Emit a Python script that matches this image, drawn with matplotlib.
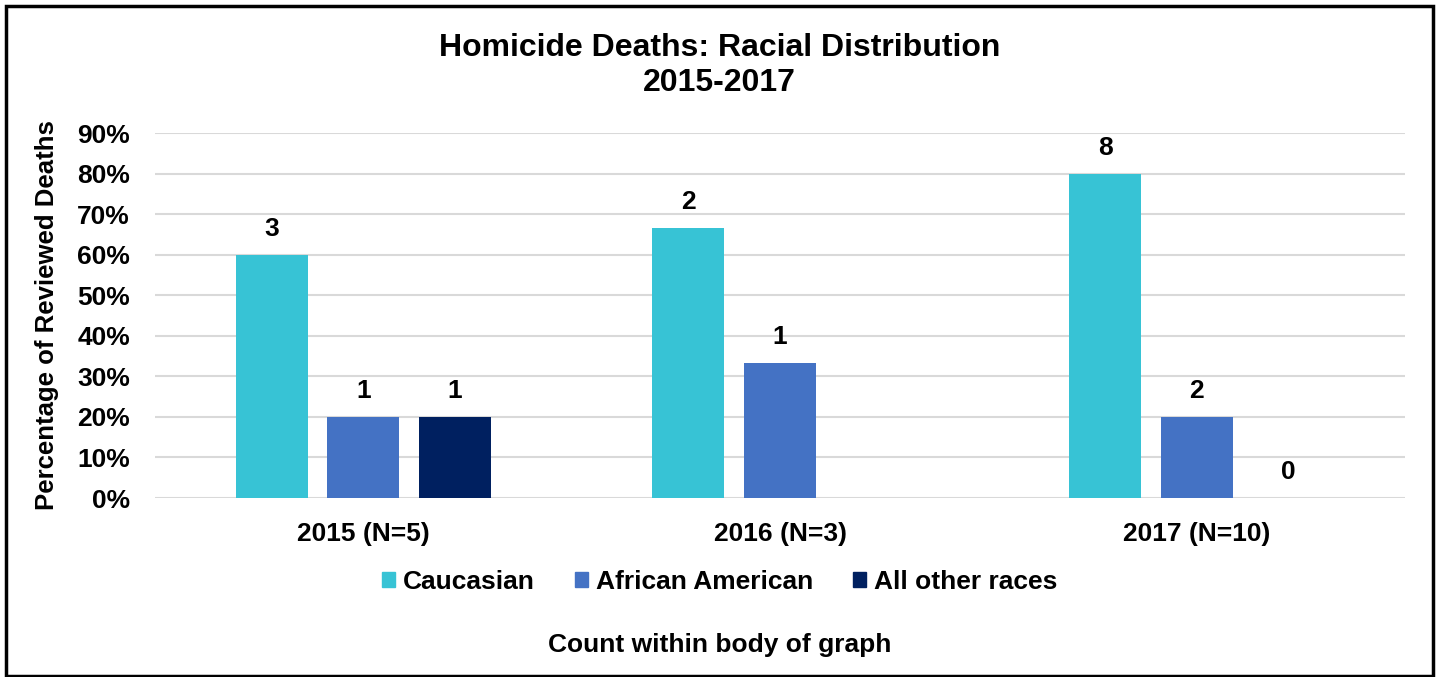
import matplotlib.pyplot as plt
import numpy as np
from matplotlib.patches import Patch, Rectangle

plt.rcParams['font.family'] = ['Liberation Sans', 'DejaVu Sans']
plt.rcParams['font.weight'] = 'bold'

years = ['2015 (N=5)', '2016 (N=3)', '2017 (N=10)']
races = ['Caucasian', 'African American', 'All other races']
colors = ['#37C3D5', '#4472C4', '#002060']
pct = {
    'Caucasian': [60, 66.7, 80],
    'African American': [20, 33.3, 20],
    'All other races': [20, 0, 0],
}
counts = {
    'Caucasian': ['3', '2', '8'],
    'African American': ['1', '1', '2'],
    'All other races': ['1', '', '0'],
}

fig = plt.figure(figsize=(14.39, 6.77), dpi=100)
ax = fig.add_axes([0.1077, 0.2644, 0.8687, 0.5391])

x = np.arange(len(years))
width = 0.173
offsets = [-0.22, 0, 0.22]
for race, color, off in zip(races, colors, offsets):
    bars = ax.bar(x + off, pct[race], width, color=color, zorder=3)
    for b, v, c in zip(bars, pct[race], counts[race]):
        ax.text(b.get_x() + b.get_width() / 2, v + 6.3, c, ha='center', va='center',
                fontsize=19, fontweight='bold')

ax.set_xlim(-0.5, 2.5)
ax.set_ylim(0, 90)
ax.set_yticks(np.arange(0, 91, 10))
ax.set_yticklabels([f'{v}%' for v in range(0, 91, 10)])
ax.set_xticks(x)
ax.set_xticklabels(years)
ax.tick_params(axis='both', length=0, labelsize=19)
ax.tick_params(axis='x', pad=17)
ax.tick_params(axis='y', pad=18)
ax.grid(axis='y', color='#D9D9D9', linewidth=1.5, zorder=0)
for s in ax.spines.values():
    s.set_visible(False)

ax.set_ylabel('Percentage of Reviewed Deaths', fontsize=18.5, fontweight='bold', labelpad=13)

fig.text(0.5, 0.929, 'Homicide Deaths: Racial Distribution', ha='center', va='center',
         fontsize=23, fontweight='bold')
fig.text(0.5, 0.878, '2015-2017', ha='center', va='center', fontsize=23, fontweight='bold')

handles = [Patch(color=c) for c in colors]
fig.legend(handles, races, loc='center', bbox_to_anchor=(0.5, 0.14), ncol=3, frameon=False,
           fontsize=19, handlelength=0.5, handleheight=0.5, handletextpad=0.3, columnspacing=1.5)

fig.text(0.5, 0.047, 'Count within body of graph', ha='center', va='center',
         fontsize=19, fontweight='bold')

fig.patches.append(Rectangle((0.004, 0.002), 0.992, 0.989, transform=fig.transFigure,
                             fill=False, edgecolor='black', linewidth=2.5))

fig.savefig('out.png', dpi=100)
